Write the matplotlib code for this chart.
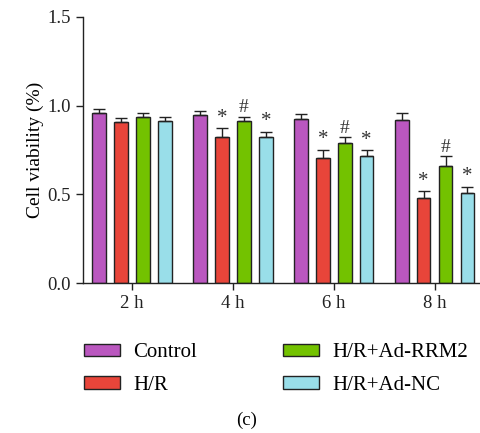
import matplotlib
matplotlib.use("Agg")
import matplotlib.pyplot as plt
import numpy as np
from matplotlib.patches import Patch

plt.rcParams['font.family'] = ['Liberation Serif', 'DejaVu Serif']

times = ["2 h", "4 h", "6 h", "8 h"]
groups = ["Control", "H/R", "H/R+Ad-RRM2", "H/R+Ad-NC"]
colors = ["#BA57BF", "#E8453A", "#73C200", "#99DEE9"]

control = [0.957, 0.948, 0.925, 0.919]
hr = [0.906, 0.825, 0.703, 0.479]
rrm2 = [0.935, 0.912, 0.791, 0.661]
nc = [0.916, 0.825, 0.714, 0.507]

control_err = [0.024, 0.024, 0.026, 0.038]
hr_err = [0.023, 0.047, 0.049, 0.038]
rrm2_err = [0.022, 0.026, 0.031, 0.053]
nc_err = [0.022, 0.028, 0.034, 0.036]

marks = [
    ["", "", "", ""],
    ["", "*", "*", "*"],
    ["", "#", "#", "#"],
    ["", "*", "*", "*"],
]

values = [control, hr, rrm2, nc]
errors = [control_err, hr_err, rrm2_err, nc_err]

fig = plt.figure(figsize=(4.81, 4.33), dpi=100)
ax = fig.add_axes([0.1726, 0.346, 0.8274, 0.615])

x = np.arange(len(times))
spacing = 0.217
width = 0.135
for i, (vals, errs, col) in enumerate(zip(values, errors, colors)):
    pos = x + (i - 1.5) * spacing
    ax.bar(pos, vals, width=width, color=col, edgecolor="#222222", linewidth=1.0, zorder=2)
    ax.errorbar(pos, vals, yerr=[np.zeros(len(vals)), errs], fmt="none",
                ecolor="#222222", elinewidth=1.0, capsize=4, capthick=1.0, zorder=3)
    for j, m in enumerate(marks[i]):
        if m:
            ax.annotate(m, (pos[j], vals[j] + errs[j]), xytext=(0, 0.5),
                        textcoords="offset points", ha="center", va="bottom",
                        fontsize=15 if m == "*" else 14, color="#333333")

ax.set_xlim(-0.487, 3.46)
ax.set_ylim(0, 1.5)
ax.set_yticks([0.0, 0.5, 1.0, 1.5])
ax.set_yticklabels(["0.0", "0.5", "1.0", "1.5"])
ax.set_xticks(x)
ax.set_xticklabels(times)
ax.spines['top'].set_visible(False)
ax.spines['right'].set_visible(False)
for s in ['left', 'bottom']:
    ax.spines[s].set_linewidth(1.0)
    ax.spines[s].set_color("#222222")
ax.tick_params(axis='both', direction='out', length=5, width=1.0, labelsize=13.5, colors="#222222")
ax.set_ylabel("Cell viability (%)", fontsize=14, labelpad=3)

handles = [Patch(facecolor=c, edgecolor="#222222", linewidth=1.0) for c in colors]
leg_kw = dict(loc="upper left", frameon=False, fontsize=15, handlelength=1.73,
              handleheight=0.58, labelspacing=0.65, handletextpad=0.63,
              borderpad=0, borderaxespad=0)
leg1 = fig.legend(handles[:2], groups[:2], bbox_to_anchor=(0.1746, 0.207), **leg_kw)
leg2 = fig.legend(handles[2:], groups[2:], bbox_to_anchor=(0.588, 0.207), **leg_kw)

fig.text(0.513, 0.03, "(c)", ha="center", va="center", fontsize=13.5)

fig.savefig("out.png", dpi=100)
